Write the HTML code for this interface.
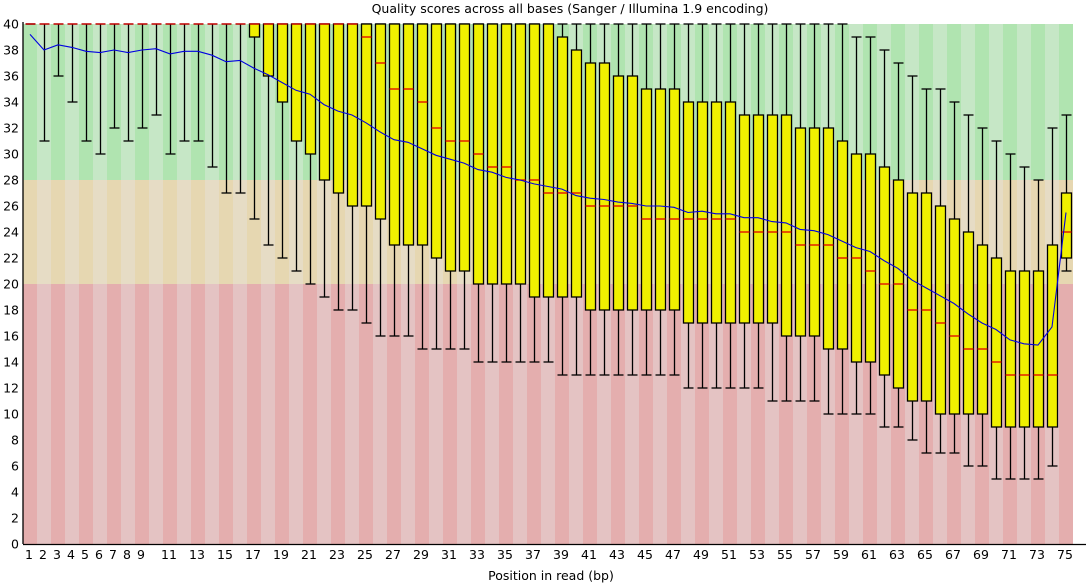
<!DOCTYPE html>
<html><head><meta charset="utf-8">
<style>
html,body{margin:0;padding:0;background:#fff;}
svg{display:block;font-family:"DejaVu Sans","Liberation Sans",sans-serif;}
</style></head>
<body>
<svg id="chart" width="1086" height="585" viewBox="0 0 1086 585" xmlns="http://www.w3.org/2000/svg">
<text x="570" y="13" font-size="12.5" text-anchor="middle" fill="#000">Quality scores across all bases (Sanger / Illumina 1.9 encoding)</text>
<text x="551" y="580" font-size="12.5" text-anchor="middle" fill="#000">Position in read (bp)</text>
<g id="bands"></g>
<g id="boxes"></g>
<g id="meanline"></g>
<g id="axes"></g>
</svg>
<script>
const positions = [1,2,3,4,5,6,7,8,9,10,11,12,13,14,15,16,17,18,19,20,21,22,23,24,25,26,27,28,29,30,31,32,33,34,35,36,37,38,39,40,41,42,43,44,45,46,47,48,49,50,51,52,53,54,55,56,57,58,59,60,61,62,63,64,65,66,67,68,69,70,71,72,73,74,75];
const lowerWhisker = [40,31,36,34,31,30,32,31,32,33,30,31,31,29,27,27,25,23,22,21,20,19,18,18,17,16,16,16,15,15,15,15,14,14,14,14,14,14,13,13,13,13,13,13,13,13,13,12,12,12,12,12,12,11,11,11,11,10,10,10,10,9,9,8,7,7,7,6,6,5,5,5,5,6,21];
const q1 = [40,40,40,40,40,40,40,40,40,40,40,40,40,40,40,40,39,36,34,31,30,28,27,26,26,25,23,23,23,22,21,21,20,20,20,20,19,19,19,19,18,18,18,18,18,18,18,17,17,17,17,17,17,17,16,16,16,15,15,14,14,13,12,11,11,10,10,10,10,9,9,9,9,9,22];
const medians = [40,40,40,40,40,40,40,40,40,40,40,40,40,40,40,40,40,40,40,40,40,40,40,40,39,37,35,35,34,32,31,31,30,29,29,28,28,27,27,27,26,26,26,26,25,25,25,25,25,25,25,24,24,24,24,23,23,23,22,22,21,20,20,18,18,17,16,15,15,14,13,13,13,13,24];
const q3 = [40,40,40,40,40,40,40,40,40,40,40,40,40,40,40,40,40,40,40,40,40,40,40,40,40,40,40,40,40,40,40,40,40,40,40,40,40,40,39,38,37,37,36,36,35,35,35,34,34,34,34,33,33,33,33,32,32,32,31,30,30,29,28,27,27,26,25,24,23,22,21,21,21,23,27];
const upperWhisker = [40,40,40,40,40,40,40,40,40,40,40,40,40,40,40,40,40,40,40,40,40,40,40,40,40,40,40,40,40,40,40,40,40,40,40,40,40,40,40,40,40,40,40,40,40,40,40,40,40,40,40,40,40,40,40,40,40,40,40,39,39,38,37,36,35,35,34,33,32,31,30,29,28,32,33];
const means = [39.2,38.0,38.4,38.2,37.9,37.8,38.0,37.8,38.0,38.1,37.7,37.9,37.9,37.6,37.1,37.2,36.6,36.1,35.5,34.9,34.6,33.8,33.3,33.0,32.4,31.7,31.1,30.9,30.4,29.9,29.6,29.3,28.8,28.6,28.2,28.0,27.7,27.5,27.3,26.8,26.6,26.5,26.3,26.2,26.0,26.0,25.9,25.5,25.6,25.4,25.4,25.1,25.1,24.8,24.7,24.2,24.1,23.8,23.3,22.8,22.5,21.8,21.2,20.3,19.7,19.1,18.5,17.7,17.0,16.5,15.7,15.4,15.3,16.7,25.5];
const yTicks = [0,2,4,6,8,10,12,14,16,18,20,22,24,26,28,30,32,34,36,38,40];

const NS = "http://www.w3.org/2000/svg";
const X0 = 23, COLW = 14, Y0 = 544, YTOP = 24;
const n = positions.length;
const xLeft = i => X0 + i * COLW;
const xCenter = i => X0 + i * COLW + COLW / 2;
const yScale = v => Y0 - (v / 40) * (Y0 - YTOP);
function mk(tag, attrs, parent) {
  const e = document.createElementNS(NS, tag);
  for (const k in attrs) e.setAttribute(k, attrs[k]);
  parent.appendChild(e);
  return e;
}
const bands = document.getElementById('bands');
const zones = [[28,40,'#b0e4b0','#c6e7c6'],[20,28,'#e6d7b1','#e6dcc5'],[0,20,'#e4aeae','#e4c3c3']];
for (let i = 0; i < n; i++) {
  for (const z of zones) {
    const r = mk('rect', {x: xLeft(i), y: yScale(z[1]), width: COLW, height: yScale(z[0]) - yScale(z[1]), fill: i % 2 === 0 ? z[2] : z[3]}, bands);
    
    
  }
}
const boxes = document.getElementById('boxes');
for (let i = 0; i < n; i++) {
  const cx = xCenter(i) + 0.5;
  const g = mk('g', {}, boxes);
  
  
  const st = {stroke: '#000', 'stroke-width': 1.3};
  mk('line', Object.assign({x1: cx, x2: cx, y1: yScale(upperWhisker[i]), y2: yScale(q3[i])}, st), g);
  mk('line', Object.assign({x1: cx, x2: cx, y1: yScale(q1[i]), y2: yScale(lowerWhisker[i])}, st), g);
  mk('line', Object.assign({x1: cx - 5, x2: cx + 5, y1: yScale(upperWhisker[i]), y2: yScale(upperWhisker[i])}, st), g);
  mk('line', Object.assign({x1: cx - 5, x2: cx + 5, y1: yScale(lowerWhisker[i]), y2: yScale(lowerWhisker[i])}, st), g);
  if (q1[i] !== q3[i]) {
    mk('rect', Object.assign({x: cx - 5, y: yScale(q3[i]), width: 10, height: yScale(q1[i]) - yScale(q3[i]), fill: '#f0f000'}, st), g);
  }
  mk('line', {x1: cx - 5, x2: cx + 5, y1: yScale(medians[i]), y2: yScale(medians[i]), stroke: '#e00000', 'stroke-width': 1.3}, g);
}
const ml = document.getElementById('meanline');
const pts = means.map((m, i) => xCenter(i) + ',' + yScale(m)).join(' ');
const pl = mk('polyline', {points: pts, fill: 'none', stroke: '#0000e0', 'stroke-width': 1.1}, ml);


const axes = document.getElementById('axes');
const ya = mk('line', {x1: X0, x2: X0, y1: YTOP - 2, y2: Y0, stroke: '#000', 'stroke-width': 1.3}, axes);


const xa = mk('line', {x1: X0, x2: 1086, y1: Y0 + 0.5, y2: Y0 + 0.5, stroke: '#000', 'stroke-width': 1.3}, axes);


for (const t of yTicks) {
  const tx = mk('text', {x: 19, y: yScale(t) + 4.5, 'font-size': 12.5, 'text-anchor': 'end', fill: '#000'}, axes);
  tx.textContent = t;
  
  
}
for (let i = 0; i < n; i++) {
  const p = positions[i];
  if (p > 9 && p % 2 === 0) continue;
  const tx = mk('text', {x: xCenter(i) - 1, y: 559, 'font-size': 12.5, 'text-anchor': 'middle', fill: '#000'}, axes);
  tx.textContent = p;
  
  
}
</script>
</body></html>
